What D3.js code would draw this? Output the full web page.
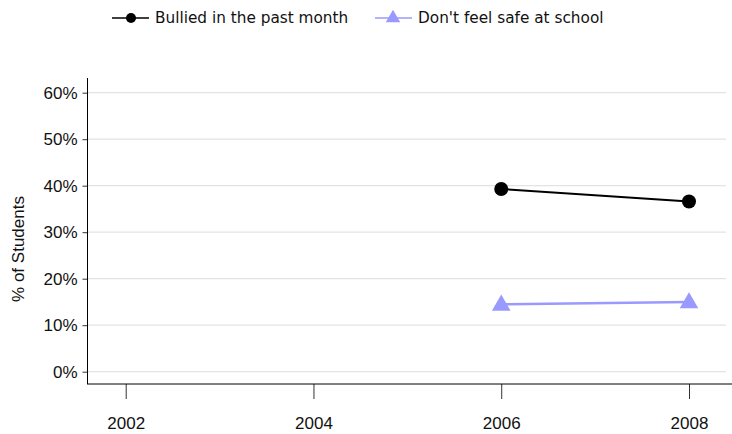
<!DOCTYPE html>
<html>
<head>
<meta charset="utf-8">
<script src="https://cdn.jsdelivr.net/npm/d3@7"></script>
<style>
  body { margin: 0; background: #fff; }
</style>
</head>
<body>
<script>
const years = [2002, 2004, 2006, 2008];
const yTicks = [0, 10, 20, 30, 40, 50, 60];
const bulliedYears = [2006, 2008];
const bulliedValues = [39.3, 36.6];
const unsafeYears = [2006, 2008];
const unsafeValues = [14.5, 15.0];
const seriesNames = ["Bullied in the past month", "Don't feel safe at school"];

const W = 732, H = 434;
const svg = d3.select("body").append("svg")
    .attr("width", W)
    .attr("height", H);

const x = d3.scaleLinear().domain([2002, 2008]).range([125.7, 689]);
const y = d3.scaleLinear().domain([0, 60]).range([371.7, 92.7]);

// grid
svg.append("g").selectAll("line")
    .data(yTicks)
    .enter()
    .append("line")
    .attr("x1", 88).attr("x2", 726)
    .attr("y1", d => y(d)).attr("y2", d => y(d))
    .attr("stroke", "#e3e3e3")
    .attr("stroke-width", 1.3);

// y axis
const yAxis = svg.append("g")
    .attr("transform", "translate(87.5,0)")
    .call(d3.axisLeft(y).tickValues(yTicks).tickSize(5).tickFormat(d => d + "%"));
yAxis.select(".domain").remove();
svg.append("line")
    .attr("x1", 87.5).attr("x2", 87.5)
    .attr("y1", 78).attr("y2", 384)
    .attr("stroke", "#000");

// x axis
const xAxis = svg.append("g")
    .attr("transform", "translate(0,384)")
    .call(d3.axisBottom(x).tickValues(years).tickSize(15).tickPadding(18).tickFormat(d3.format("d")));
xAxis.select(".domain").remove();
svg.append("line")
    .attr("x1", 87).attr("x2", W)
    .attr("y1", 384).attr("y2", 384)
    .attr("stroke", "#000");

svg.selectAll(".tick line").attr("stroke", "#333");
svg.selectAll(".tick text")
    .attr("font-family", "Liberation Sans, Arial, sans-serif")
    .attr("font-size", 17)
    .attr("fill", "#111");
yAxis.selectAll(".tick text").attr("x", -10);

svg.append("text")
    .attr("transform", "translate(24," + 249 + ") rotate(-90)")
    .attr("text-anchor", "middle")
    .attr("font-family", "Liberation Sans, Arial, sans-serif")
    .attr("font-size", 17)
    .attr("fill", "#111")
    .text("% of Students");

// series
const bullied = bulliedYears.map((d, i) => ({ year: d, value: bulliedValues[i] }));
const unsafe = unsafeYears.map((d, i) => ({ year: d, value: unsafeValues[i] }));
const line = d3.line().x(d => x(d.year)).y(d => y(d.value));
const tri = d3.symbol().type(d3.symbolTriangle).size(150);

svg.append("path")
    .datum(unsafe)
    .attr("d", line)
    .attr("fill", "none")
    .attr("stroke", "#9999ff")
    .attr("stroke-width", 2.5);
svg.selectAll(".tri")
    .data(unsafe)
    .enter()
    .append("path")
    .attr("class", "tri")
    .attr("d", tri)
    .attr("transform", d => "translate(" + x(d.year) + "," + (y(d.value) + 1) + ")")
    .attr("fill", "#9999ff");

svg.append("path")
    .datum(bullied)
    .attr("d", line)
    .attr("fill", "none")
    .attr("stroke", "#000")
    .attr("stroke-width", 2);
svg.selectAll(".dot")
    .data(bullied)
    .enter()
    .append("circle")
    .attr("class", "dot")
    .attr("cx", d => x(d.year))
    .attr("cy", d => y(d.value))
    .attr("r", 7)
    .attr("fill", "#000");

// legend
const legend = svg.append("g");
const items = [
    { name: seriesNames[0], x0: 112, color: "#000", shape: "circle" },
    { name: seriesNames[1], x0: 375, color: "#9999ff", shape: "triangle" }
];
items.forEach(it => {
    const g = legend.append("g").attr("transform", "translate(" + it.x0 + ",18)");
    g.append("line").attr("x1", 0).attr("x2", 37).attr("y1", 0).attr("y2", 0)
        .attr("stroke", it.color).attr("stroke-width", 1.5);
    if (it.shape === "circle") {
        g.append("circle").attr("cx", 19).attr("cy", 0).attr("r", 5).attr("fill", it.color);
    } else {
        g.append("path").attr("d", d3.symbol().type(d3.symbolTriangle).size(90))
            .attr("transform", "translate(18,0)").attr("fill", it.color);
    }
    g.append("text")
        .attr("x", 43)
        .attr("y", 0)
        .attr("dy", "0.35em")
        .attr("font-family", "DejaVu Sans, Verdana, sans-serif")
        .attr("font-size", 15.3)
        .attr("fill", "#111")
        .text(it.name);
});
</script>
</body>
</html>
